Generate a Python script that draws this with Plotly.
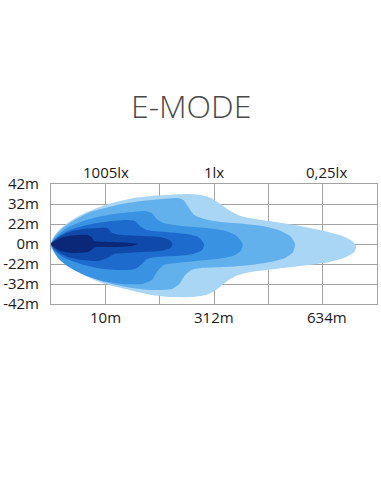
import plotly.graph_objects as go

# Axis grid: x in chart units (6 columns of 55), y in chart units (6 rows of 20)
x_grid = [0, 55, 110, 165, 220, 275, 330]
y_tickvals = [-60, -40, -20, 0, 20, 40, 60]
y_ticktext = ["-42m", "-32m", "-22m", "0m", "22m", "32m", "42m"]

top_labels = ["1005lx", "1lx", "0,25lx"]
top_label_x = [56, 165, 279]
bottom_labels = ["10m", "312m", "634m"]
bottom_label_x = [55, 165, 279]

# Isolux contour outlines (lightest to darkest)
L1_x = [0, 2, 8, 18, 30, 44, 55, 70, 84, 100, 117, 137, 152, 162, 170, 180, 192, 207, 227, 252, 277, 295, 305, 309,
        307, 299, 282, 252, 227, 202, 187, 177, 167, 157, 142, 122, 102, 84, 67, 52, 37, 22, 10, 3, 0]
L1_y = [0, 6, 14, 22, 29, 35, 39, 43, 46, 48, 49, 50, 49, 46, 41, 34, 28, 25, 22, 18, 13, 8, 3, -2,
        -8, -13, -18, -22, -25, -28, -32, -38, -46, -51, -53, -53, -51, -47, -43, -39, -33, -25, -16, -8, -4]

L2_x = [0, 4, 12, 24, 40, 55, 72, 92, 112, 128, 134, 139, 145, 155, 172, 197, 214, 230, 242, 247,
        245, 237, 222, 202, 177, 152, 142, 135, 130, 122, 102, 82, 62, 42, 24, 12, 4]
L2_y = [0, 8, 16, 24, 32, 36, 40, 43, 45, 46, 44, 37, 29, 25, 22, 20, 18, 14, 8, 0,
        -8, -14, -18, -21, -23, -24, -26, -32, -40, -45, -46, -44, -40, -34, -26, -18, -9]

L3_x = [0, 6, 16, 30, 47, 64, 82, 95, 102, 107, 114, 132, 157, 177, 188, 194,
        192, 184, 167, 147, 127, 114, 108, 102, 92, 72, 52, 34, 18, 7]
L3_y = [0, 8, 16, 22, 27, 30, 32, 33, 31, 25, 21, 18, 16, 13, 8, 0,
        -7, -12, -15, -17, -19, -21, -27, -36, -40, -40, -37, -31, -23, -14]

L4_x = [0, 7, 17, 32, 47, 62, 77, 85, 90, 97, 117, 137, 149, 155,
        153, 144, 127, 107, 97, 92, 85, 67, 47, 30, 14, 4]
L4_y = [0, 7, 13, 18, 21, 23, 24, 23, 18, 14, 12, 10, 7, 0,
        -6, -10, -12, -13, -15, -20, -25, -26, -24, -20, -14, -7]

L5_x = [0, 8, 18, 32, 47, 57, 62, 72, 92, 110, 120, 123,
        121, 110, 92, 77, 64, 57, 47, 32, 17, 6]
L5_y = [0, 7, 12, 15, 16, 16, 11, 9, 8, 7, 4, 0,
        -4, -7, -8, -9, -10, -14, -17, -16, -13, -7]

L6_x = [0, 7, 17, 27, 37, 41, 44, 62, 82, 88,
        82, 62, 45, 41, 37, 22, 10, 4]
L6_y = [0, 5, 8, 9, 9, 7, 3, 2, 1, 0,
        -2, -3, -3, -6, -8, -9, -7, -4]

layers = [
    (L1_x, L1_y, "#a9d6f5"),
    (L2_x, L2_y, "#62b0ec"),
    (L3_x, L3_y, "#3a92e2"),
    (L4_x, L4_y, "#1d6ccd"),
    (L5_x, L5_y, "#0f4aaa"),
    (L6_x, L6_y, "#0a2877"),
]

fig = go.Figure()
for xs, ys, col in layers:
    fig.add_trace(go.Scatter(
        x=xs + [xs[0]], y=ys + [ys[0]], mode="lines", fill="toself",
        fillcolor=col, line=dict(width=0, color=col, shape="spline", smoothing=0.6),
        hoverinfo="skip", showlegend=False))

grid_col = "#a3a3a3"
fig.update_xaxes(range=[0, 330], tickvals=x_grid, showticklabels=False, showgrid=True,
                 gridcolor=grid_col, gridwidth=1, zeroline=False, showline=True,
                 linecolor=grid_col, linewidth=1, mirror=True, fixedrange=True)
fig.update_yaxes(range=[-60, 60], tickvals=y_tickvals, ticktext=y_ticktext, showgrid=True,
                 gridcolor=grid_col, gridwidth=1, zeroline=False, showline=True,
                 linecolor=grid_col, linewidth=1, mirror=True, ticklabelstandoff=8,
                 tickfont=dict(family="Open Sans", size=15, color="#1a1a1a"), fixedrange=True)

annotations = []
for t, x in zip(top_labels, top_label_x):
    annotations.append(dict(text=t, x=x, y=1.0, xref="x", yref="paper", yanchor="bottom",
                            yshift=0, showarrow=False,
                            font=dict(family="Open Sans", size=15, color="#1a1a1a")))
for t, x in zip(bottom_labels, bottom_label_x):
    annotations.append(dict(text=t, x=x, y=0.0, xref="x", yref="paper", yanchor="top",
                            yshift=-1, showarrow=False,
                            font=dict(family="Open Sans", size=15, color="#1a1a1a")))
annotations.append(dict(text="E-MODE", x=(190 - 48) / 330, y=1 + (184 - 105) / 120,
                        xref="paper", yref="paper", xanchor="center", yanchor="middle",
                        showarrow=False,
                        font=dict(family="Open Sans", size=32, color="#4a4a4a", weight=300)))

fig.update_layout(
    width=381, height=492, margin=dict(l=48, r=3, t=184, b=188),
    paper_bgcolor="white", plot_bgcolor="white", annotations=annotations,
)

fig.write_html("out.html")
